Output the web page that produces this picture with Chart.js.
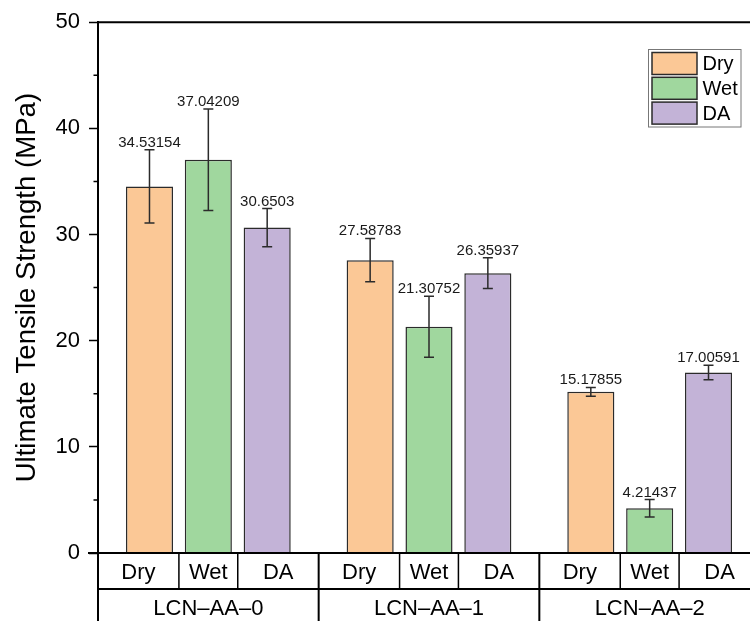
<!DOCTYPE html>
<html>
<head>
<meta charset="utf-8">
<script src="https://cdn.jsdelivr.net/npm/chart.js@4/dist/chart.umd.min.js"></script>
<style>
  html, body { margin: 0; padding: 0; overflow: hidden; background: #fff; }
  #wrap { width: 750px; height: 621px; overflow: hidden; }
  canvas { display: block; }
</style>
</head>
<body>
<div id="wrap"><canvas id="c" width="760" height="621"></canvas></div>
<script>
// Sample groups and test conditions
const groups = ['LCN–AA–0', 'LCN–AA–1', 'LCN–AA–2'];
const conditions = ['Dry', 'Wet', 'DA'];

// Mean ultimate tensile strength (MPa) per condition, one entry per group
const dryValues = [34.53154, 27.58783, 15.17855];
const wetValues = [37.04209, 21.30752, 4.21437];
const daValues  = [30.6503, 26.35937, 17.00591];

// Standard deviations (MPa)
const dryErrors = [3.45, 2.04, 0.42];
const wetErrors = [4.78, 2.87, 0.82];
const daErrors  = [1.80, 1.45, 0.69];

// Y axis range
const yMin = 0;
const yMax = 50;
const yStep = 10;
const yMinorStep = 5;

const FONT = "'Liberation Sans', Arial, Helvetica, sans-serif";
const colors = ['#FBC896', '#A0D79E', '#C3B3D7'];
const valueSets = [dryValues, wetValues, daValues];
const errorSets = [dryErrors, wetErrors, daErrors];

// Error bars with value labels above them
const errorBarPlugin = {
  id: 'errorBars',
  afterDatasetsDraw(chart) {
    const ctx = chart.ctx;
    const y = chart.scales.y;
    ctx.save();
    chart.data.datasets.forEach((ds, di) => {
      const meta = chart.getDatasetMeta(di);
      meta.data.forEach((bar, i) => {
        const v = ds.data[i];
        const e = ds.errors[i];
        const yt = y.getPixelForValue(v + e);
        const yb = y.getPixelForValue(v - e);
        ctx.strokeStyle = '#2b2b2b';
        ctx.lineWidth = 1.5;
        ctx.beginPath();
        ctx.moveTo(bar.x, yt); ctx.lineTo(bar.x, yb);
        ctx.moveTo(bar.x - 5, yt); ctx.lineTo(bar.x + 5, yt);
        ctx.moveTo(bar.x - 5, yb); ctx.lineTo(bar.x + 5, yb);
        ctx.stroke();
        ctx.fillStyle = '#1a1a1a';
        ctx.font = '15px ' + FONT;
        ctx.textAlign = 'center';
        ctx.textBaseline = 'alphabetic';
        ctx.fillText(String(v), bar.x, yt - 3);
      });
    });
    ctx.restore();
  }
};

// Frame, minor ticks, legend box and the two-row category table under the axis
const decorPlugin = {
  id: 'decor',
  afterDraw(chart) {
    const ctx = chart.ctx;
    const area = chart.chartArea;
    const xs = chart.scales.x;
    const ys = chart.scales.y;
    ctx.save();

    // top frame line
    ctx.strokeStyle = '#000';
    ctx.lineWidth = 2;
    ctx.beginPath();
    ctx.moveTo(area.left, area.top);
    ctx.lineTo(area.right, area.top);
    ctx.stroke();

    // minor ticks
    ctx.lineWidth = 1.5;
    ctx.beginPath();
    for (let v = yMin + yMinorStep; v < yMax; v += yStep) {
      const py = ys.getPixelForValue(v);
      ctx.moveTo(area.left - 4.5, py);
      ctx.lineTo(area.left, py);
    }
    ctx.stroke();

    // category table
    const row1Top = area.bottom;
    const row2Top = area.bottom + 36;
    const tableBottom = chart.height + 5;
    ctx.strokeStyle = '#000';
    ctx.lineWidth = 2;
    ctx.beginPath();
    ctx.moveTo(area.left - 10, row1Top); ctx.lineTo(area.right, row1Top);
    ctx.moveTo(area.left, row2Top); ctx.lineTo(area.right, row2Top);
    ctx.moveTo(area.left, row1Top); ctx.lineTo(area.left, tableBottom);
    ctx.stroke();

    const metas = chart.data.datasets.map((d, i) => chart.getDatasetMeta(i));
    const catW = xs.width / groups.length;
    ctx.fillStyle = '#000';
    ctx.textAlign = 'center';
    ctx.textBaseline = 'alphabetic';
    groups.forEach((g, gi) => {
      const cx = xs.getPixelForValue(gi);
      const gl = cx - catW / 2;
      const gr = cx + catW / 2;
      const xsBars = metas.map(m => m.data[gi].x);
      const bounds = [gl];
      for (let k = 0; k < xsBars.length - 1; k++) bounds.push((xsBars[k] + xsBars[k + 1]) / 2);
      bounds.push(gr);

      ctx.lineWidth = 1.5;
      ctx.beginPath();
      for (let k = 1; k < bounds.length - 1; k++) {
        ctx.moveTo(bounds[k], row1Top); ctx.lineTo(bounds[k], row2Top);
      }
      ctx.stroke();
      if (gi < groups.length - 1) {
        ctx.lineWidth = 2;
        ctx.beginPath();
        ctx.moveTo(gr, row1Top); ctx.lineTo(gr, tableBottom);
        ctx.stroke();
      }

      ctx.font = '22px ' + FONT;
      conditions.forEach((c, k) => {
        ctx.fillText(c, (bounds[k] + bounds[k + 1]) / 2, row1Top + 25.5);
      });
      ctx.fillText(g, cx, row2Top + 26);
    });

    // legend
    const lx = 648.5, ly = 49.5, lw = 92.5, lh = 77.5;
    ctx.strokeStyle = '#777';
    ctx.lineWidth = 1;
    ctx.strokeRect(lx, ly, lw, lh);
    ctx.font = '20px ' + FONT;
    ctx.textAlign = 'left';
    ctx.textBaseline = 'middle';
    chart.data.datasets.forEach((ds, i) => {
      const sy = 52.5 + i * 24.8;
      ctx.fillStyle = ds.backgroundColor;
      ctx.fillRect(652, sy, 45, 22);
      ctx.strokeStyle = '#2b2b2b';
      ctx.lineWidth = 1.5;
      ctx.strokeRect(652, sy, 45, 22);
      ctx.fillStyle = '#000';
      ctx.fillText(ds.label, 702.5, sy + 12);
    });

    ctx.restore();
  }
};

new Chart(document.getElementById('c'), {
  type: 'bar',
  data: {
    labels: groups,
    datasets: conditions.map((c, i) => ({
      label: c,
      data: valueSets[i],
      errors: errorSets[i],
      backgroundColor: colors[i],
      borderColor: '#2b2b2b',
      borderWidth: 1.5,
      categoryPercentage: 0.8,
      barPercentage: 0.8
    }))
  },
  options: {
    responsive: false,
    devicePixelRatio: 1,
    animation: false,
    layout: { padding: { left: 0, right: 0, top: 21, bottom: 68 } },
    plugins: { legend: { display: false }, tooltip: { enabled: false } },
    scales: {
      x: { display: false },
      y: {
        min: yMin,
        max: yMax,
        afterFit(scale) { scale.width = 98; },
        ticks: {
          stepSize: yStep,
          color: '#000',
          padding: 9,
          font: { family: FONT, size: 22 }
        },
        grid: {
          display: true,
          drawOnChartArea: false,
          drawTicks: true,
          tickLength: 9,
          tickWidth: 1.5,
          tickColor: '#000'
        },
        border: { display: true, color: '#000', width: 2 },
        title: {
          display: true,
          text: 'Ultimate Tensile Strength (MPa)',
          color: '#000',
          font: { family: FONT, size: 27.6 },
          padding: { top: 11, bottom: 0 }
        }
      }
    }
  },
  plugins: [errorBarPlugin, decorPlugin]
});
</script>
</body>
</html>
